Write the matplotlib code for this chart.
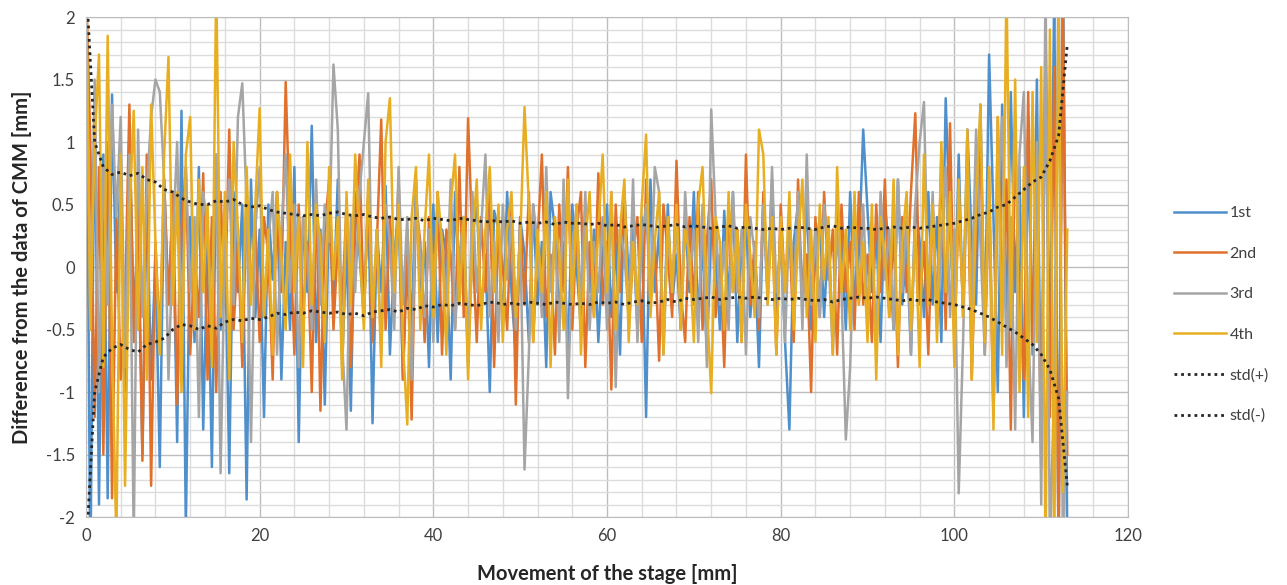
import matplotlib
matplotlib.use("Agg")
import matplotlib.pyplot as plt
import numpy as np
from matplotlib.ticker import MultipleLocator, FuncFormatter

plt.rcParams['font.family'] = ['Lato', 'DejaVu Sans']
plt.rcParams['axes.unicode_minus'] = False

# sampling step of the four runs [mm] and of the std curves
step = 0.5
std_step = 1.0

labels = ["1st", "2nd", "3rd", "4th"]

first = [
    2.5, -2.5, 1.4, -1.9, 0.9, -1.85, 1.38, -0.2, 0.8, -1.0, 1.1, -0.4, 0.3, -1.5, 0.6, -0.9, 0.1, -1.6, 0.7, -0.3,
    0.5, -1.4, 1.25, -2.1, 0.4, -0.6, 0.8, -1.3, 0.2, -1.6, 0.9, -0.5, 0.3, -1.65, 0.6, -0.2, 0.5, -1.86, 0.7, -0.4,
    0.3, -1.2, 0.5, -0.1, 0.6, -0.9, 0.2, -0.5, 0.8, -1.4, 0.4, -0.2, 1.13, -0.6, 0.3, -1.1, 0.5, -0.3, 0.7, -0.8,
    0.2, -1.15, 0.6, 0.1, -0.4, 0.55, -1.25, 0.3, -0.2, 0.65, -0.7, 0.1, 0.45, -0.9, 0.3, -0.5, 0.7, -0.3, 0.2, -0.8,
    0.5, -0.6, 0.3, 0.1, -0.9, 0.6, -0.2, 0.4, -0.75, 0.2, 0.55, -0.4, 0.1, -1.0, 0.45, 0.3, -0.5, 0.6, -0.2, -0.7,
    0.4, 0.1, -0.6, 0.5, -0.3, 0.2, -0.8, 0.6, 0.3, -0.4, 0.2, -0.7, 0.5, 0.0, -0.5, 0.4, -0.2, 0.3, -0.6, 0.1,
    0.5, -0.4, 0.2, -0.7, 0.6, -0.1, 0.3, -0.5, 0.4, -1.2, 0.7, -0.2, 0.3, -0.6, 0.5, -0.3, 0.1, -0.5, 0.4, -0.2,
    0.6, -0.4, 0.2, -0.7, 0.3, 0.1, -0.5, 0.45, -0.3, 0.6, -0.6, 0.2, 0.4, -0.4, 0.1, -0.8, 0.5, -0.2, 0.7, -0.5,
    0.3, -0.6, -1.3, 0.2, 0.5, -0.3, 0.6, -0.5, 0.1, 0.4, -0.4, 0.3, -0.6, 0.5, 0.2, -0.5, 0.6, -0.3, 0.1, 1.1,
    0.45, -0.2, 0.3, -0.6, 0.5, 0.1, -0.5, 0.7, -0.3, 0.2, -0.7, 0.5, 0.2, -0.4, 0.6, -0.3, 0.4, -0.6, 1.35, 0.3,
    -0.5, 0.9, -0.4, 1.1, 0.2, -0.3, 1.3, -0.6, 1.7, 0.4, -1.0, 1.3, -0.5, 1.4, -0.2, 0.8, -1.2, 1.0, -0.7, 1.5,
    -1.45, 1.7, -0.8, 2.2, -2.3, 2.5, -2.2,
]

second = [
    2.3, 1.0, -1.2, 0.8, -1.5, 1.0, -1.85, 0.4, -0.9, -0.3, 1.3, -0.6, 0.5, -1.55, 0.9, -1.75, 0.2, -0.6, 0.7, -0.3,
    0.6, -1.1, 0.3, 0.8, -0.7, 0.1, -0.4, 0.75, -0.9, 0.4, -1.0, 0.6, -0.3, 1.1, -0.5, 0.2, -0.8, 0.5, -0.2, 0.35,
    -0.6, 0.4, 0.1, -0.9, 0.6, -0.2, 1.48, 0.3, -0.7, 0.5, -0.4, 0.2, -1.0, 0.6, -1.15, 0.3, 0.7, -0.5, 0.2, -0.3,
    0.5, -0.8, 0.3, 0.9, -0.4, 0.6, -0.6, 0.2, 1.18, -0.5, 0.4, -0.2, 0.7, -0.9, 0.1, -1.22, 0.5, 0.2, -0.6, 0.4,
    -0.3, 0.6, -0.7, 0.3, 0.1, -0.5, 0.8, -0.4, 1.19, 0.2, -0.6, 0.4, -0.2, 0.6, -0.8, 0.3, 0.0, -0.5, 0.5, -1.1,
    0.4, -0.3, 0.6, -0.6, 0.2, 0.9, -0.4, 0.1, -0.7, 0.5, -0.2, 0.8, -0.5, 0.3, 0.6, -0.8, 0.2, -0.4, 0.75, -0.3,
    0.2, -0.98, 0.5, -0.2, 0.6, -0.5, 0.1, 0.4, -0.6, 0.7, -0.3, 0.2, -0.75, 0.5, 0.1, -0.4, 0.85, -0.2, -0.6, 0.4,
    -0.3, 0.6, -0.5, 0.2, 0.7, -0.4, 0.1, -0.8, 0.5, -0.2, 0.3, -0.6, 0.9, -0.3, 0.2, -0.5, 0.6, -0.1, 0.4, -0.7,
    0.5, -0.2, 0.3, -0.6, 0.7, -0.3, 0.1, -1.0, 0.4, -0.4, 0.6, -0.1, 0.3, -0.7, 0.5, -0.2, 0.2, -0.5, 0.6, -0.3,
    0.1, -0.6, 0.5, -0.2, 0.7, -0.4, 0.3, -0.8, 0.4, -0.2, 0.6, 1.23, -0.3, 0.2, -0.7, 0.5, -0.4, 0.9, -0.5, 1.15,
    -0.6, 0.5, -0.3, 0.8, -0.9, 0.3, 1.0, -0.7, 0.6, -1.2, 1.2, -0.4, 0.7, -1.3, 1.1, -0.2, -0.9, 1.4, -0.6, 0.9,
    -1.6, 1.95, -1.2, 1.6, -2.3, 2.2, -1.5,
]

third = [
    2.4, -0.5, 1.5, -1.0, 0.8, -0.3, 1.3, 0.4, 1.2, -0.8, 0.9, -2.2, 1.1, -0.4, 0.6, 1.2, 1.5, 1.4, 0.7, -0.9,
    0.2, 1.0, -0.6, 0.8, -0.2, 0.4, -1.2, 0.6, 0.3, -0.5, 0.9, -1.65, 0.2, 0.7, -0.3, 1.2, 1.47, 0.5, -1.4, 0.3,
    0.8, -0.4, 0.2, 0.6, -0.7, 0.3, 0.9, -0.2, 0.5, -0.8, 0.4, 0.1, -0.5, 0.7, -0.3, 0.5, 0.2, 1.62, 1.1, -0.6,
    -1.3, 0.4, -0.2, 0.6, 1.0, 1.39, -0.4, 0.3, -0.7, 0.5, 0.2, -0.5, 0.8, -0.3, 0.4, -0.9, 0.6, 0.1, -0.4, 0.3,
    -0.6, 0.5, 0.2, -0.3, 0.7, -0.5, 0.1, 0.4, -0.8, 0.6, -0.2, 0.3, 0.9, -0.4, 0.2, -0.6, 0.5, -0.1, 0.4, -0.5,
    0.3, -1.62, -0.7, 0.5, 0.2, -0.4, 0.8, -0.2, 0.3, -0.6, 0.7, -1.05, 0.1, 0.5, -0.3, 0.6, -0.5, 0.2, -0.2, 0.4,
    -0.5, 0.6, -0.96, 0.3, 0.1, -0.4, 0.7, -0.6, 0.2, 0.5, -0.3, 0.8, 0.6, -0.7, 0.3, -0.2, 0.4, -0.5, 0.6, -0.1,
    0.3, -0.6, 0.5, -0.8, 1.26, 0.4, -0.3, 0.2, -0.5, 0.6, -0.2, 0.3, -0.7, 0.4, 0.1, -0.4, 0.5, -0.3, 0.8, -0.2,
    0.2, -0.6, 0.4, -0.2, 0.6, -0.5, 0.9, -0.3, 0.3, -0.4, 0.5, 0.1, -0.7, 0.3, -0.2, -1.38, -0.8, 0.4, -0.3, 0.5,
    -0.4, 0.3, -0.6, 0.6, -0.1, 0.3, -0.5, 0.7, -0.2, 0.4, -0.7, 0.5, 1.0, 1.32, -0.3, 0.6, -0.5, 0.2, 0.8, -0.4,
    0.3, -1.81, -0.6, 0.9, -0.3, 1.1, 0.2, -0.7, 0.8, -1.2, 0.5, 1.2, -0.8, 0.4, -1.3, 0.9, 1.4, -0.5, -1.4, 1.0,
    -1.9, 2.3, -2.3, -0.9, 2.4, -2.3, -1.0,
]

fourth = [
    2.5, -0.5, 1.0, 1.7, -0.8, 1.85, -0.6, -2.2, 0.9, -1.75, 0.4, 1.25, -0.5, 0.8, -0.9, 1.3, 0.2, -0.7, 0.9, 1.68,
    -0.3, 0.6, -1.0, 0.9, 1.2, -0.5, 0.7, -0.2, 0.5, -0.8, 2.3, -0.4, 0.6, -0.9, 1.0, 0.3, -0.6, 0.8, -0.3, 0.5,
    1.27, -0.4, 0.3, -0.7, 0.6, 0.1, -0.5, 0.9, -0.2, 0.4, -0.8, 1.0, -0.3, 0.5, 0.2, -0.6, 0.8, -0.1, 0.4, -0.9,
    0.6, -0.3, 0.9, 0.2, -0.5, 0.7, -0.4, 0.3, -0.8, 1.0, 1.35, -0.2, 0.5, -0.6, -1.26, 0.4, 0.8, -0.5, 0.3, 0.9,
    -0.4, 0.6, 0.2, -0.7, 0.5, 0.9, -0.3, 0.4, -0.9, 0.2, 0.7, -0.5, 0.3, 0.8, -0.2, 0.5, -0.6, 0.3, 0.6, -0.4,
    0.2, 1.28, 0.5, -0.6, 0.3, -0.2, 0.6, -0.8, 0.4, 0.1, -0.5, 0.7, -0.3, 0.5, -0.7, 0.2, 0.6, -0.4, 0.3, 0.9,
    -0.2, 0.6, -0.5, 0.3, 0.7, -0.6, 0.2, -0.3, 0.5, 1.06, -0.4, 0.2, 0.6, -0.7, 0.4, -0.2, 0.5, -0.5, 0.3, 0.1,
    -0.6, 0.5, 0.8, -0.3, -1.01, 0.4, 0.2, -0.5, 0.6, -0.2, 0.3, -0.6, 0.5, 0.1, -0.4, 1.1, 0.9, -0.3, 0.4, -0.7,
    0.4, -0.2, 0.6, -0.5, 0.2, 0.7, -0.4, 0.3, -0.6, 0.5, -0.1, 0.4, -0.7, 0.8, -0.2, 0.3, -0.5, 0.6, -0.3, 0.2,
    -0.6, 0.5, -0.9, 0.4, 0.1, -0.4, 0.7, -0.7, 0.2, 0.6, -0.5, 0.3, -0.8, 0.9, -0.3, 0.5, -0.6, 1.0, -0.2, 0.6,
    -0.8, 0.7, -0.4, 1.1, -0.9, 0.5, 1.3, -0.6, 0.8, -1.3, 1.2, -0.7, 2.3, -0.5, 1.5, -1.0, 0.8, -1.2, 1.4, -0.6,
    1.6, -2.3, 1.9, -2.3, 2.1, -1.8, 0.3,
]

std_plus = [
    2.3, 1.0, 0.8, 0.74, 0.76, 0.73, 0.75, 0.7, 0.68, 0.62, 0.6, 0.55, 0.52, 0.5, 0.5, 0.53, 0.52, 0.54, 0.5, 0.48,
    0.49, 0.46, 0.44, 0.43, 0.42, 0.41, 0.42, 0.41, 0.43, 0.44, 0.42, 0.41, 0.42, 0.4, 0.39, 0.4, 0.38, 0.38, 0.39, 0.37,
    0.39, 0.38, 0.37, 0.39, 0.38, 0.37, 0.36, 0.37, 0.36, 0.37, 0.35, 0.36, 0.35, 0.36, 0.34, 0.36, 0.35, 0.35, 0.34, 0.35,
    0.33, 0.34, 0.32, 0.33, 0.34, 0.33, 0.32, 0.33, 0.34, 0.32, 0.33, 0.32, 0.31, 0.32, 0.33, 0.31, 0.32, 0.31, 0.30, 0.31,
    0.30, 0.31, 0.32, 0.31, 0.30, 0.32, 0.33, 0.31, 0.32, 0.31, 0.31, 0.30, 0.31, 0.32, 0.31, 0.32, 0.31, 0.32, 0.33, 0.34,
    0.35, 0.37, 0.39, 0.42, 0.44, 0.48, 0.5, 0.56, 0.62, 0.68, 0.72, 0.85, 1.05, 1.78,
]

std_minus = [
    -2.3, -1.0, -0.72, -0.65, -0.62, -0.66, -0.68, -0.62, -0.6, -0.57, -0.5, -0.46, -0.47, -0.5, -0.47, -0.49, -0.44, -0.42, -0.43, -0.41,
    -0.42, -0.4, -0.37, -0.38, -0.36, -0.37, -0.35, -0.36, -0.37, -0.36, -0.38, -0.37, -0.39, -0.36, -0.35, -0.34, -0.36, -0.33, -0.34, -0.31,
    -0.32, -0.3, -0.31, -0.29, -0.3, -0.31, -0.29, -0.28, -0.3, -0.29, -0.3, -0.28, -0.29, -0.3, -0.28, -0.29, -0.3, -0.29, -0.3, -0.28,
    -0.29, -0.28, -0.3, -0.28, -0.27, -0.29, -0.28, -0.26, -0.28, -0.25, -0.26, -0.25, -0.24, -0.26, -0.25, -0.24, -0.25, -0.24, -0.25, -0.26,
    -0.25, -0.26, -0.25, -0.26, -0.27, -0.26, -0.28, -0.26, -0.25, -0.24, -0.25, -0.24, -0.25, -0.26, -0.27, -0.26, -0.27, -0.26, -0.28, -0.29,
    -0.3, -0.32, -0.34, -0.37, -0.4, -0.44, -0.48, -0.52, -0.57, -0.62, -0.7, -0.82, -1.05, -1.75,
]

colors = ["#4f8fcb", "#e0712c", "#a5a5a5", "#e8ae22"]

fig = plt.figure(figsize=(12.87, 5.85), dpi=100)
ax = fig.add_axes([0.0668, 0.1162, 0.8097, 0.8547])

for vals, lab, c in zip([first, second, third, fourth], labels, colors):
    x = np.arange(len(vals)) * step
    ax.plot(x, vals, color=c, lw=1.8, label=lab)

xs = np.arange(len(std_plus)) * std_step
ax.plot(xs, std_plus, color="#262626", lw=2, ls=(0, (1, 1.4)), label="std(+)")
ax.plot(xs, std_minus, color="#262626", lw=2, ls=(0, (1, 1.4)), label="std(-)")

ax.set_xlim(0, 120)
ax.set_ylim(-2, 2)
ax.xaxis.set_major_locator(MultipleLocator(20))
ax.xaxis.set_minor_locator(MultipleLocator(4))
ax.yaxis.set_major_locator(MultipleLocator(0.5))
ax.yaxis.set_minor_locator(MultipleLocator(0.1))
ax.yaxis.set_major_formatter(FuncFormatter(lambda v, p: "{:g}".format(v)))
ax.grid(which="major", color="#bdbdbd", lw=1.0)
ax.grid(which="minor", color="#dcdcdc", lw=1.0)
ax.set_axisbelow(True)
ax.tick_params(which="both", length=0, labelsize=12, colors="#404040", pad=8)
for sp in ax.spines.values():
    sp.set_color("#bdbdbd")

ax.set_xlabel("Movement of the stage [mm]", fontsize=14.5, fontweight="bold", color="#262626", labelpad=14)
ax.set_ylabel("Difference from the data of CMM [mm]", fontsize=14.5, fontweight="bold", color="#262626", labelpad=10)

leg = ax.legend(loc="center left", bbox_to_anchor=(1.03, 0.405), frameon=False,
                fontsize=11.5, labelspacing=1.65, handlelength=3.3, handletextpad=0.2)
for t in leg.get_texts():
    t.set_color("#404040")

fig.savefig("out.png", dpi=100)
